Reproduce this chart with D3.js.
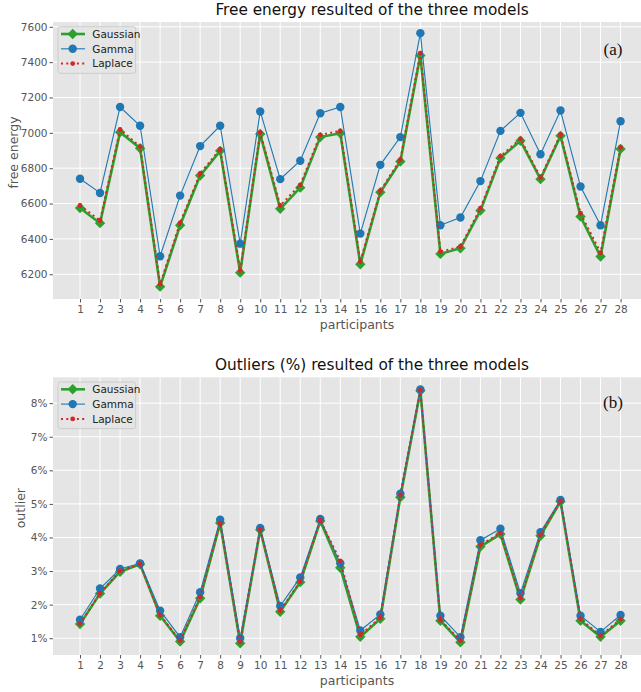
<!DOCTYPE html>
<html>
<head>
<meta charset="utf-8">
<script src="https://cdn.jsdelivr.net/npm/d3@7"></script>
<style>
  body { margin: 0; background: #fff; }
  svg { display: block; font-family: "DejaVu Sans", sans-serif; }
</style>
</head>
<body>
<script>
// participants on the x axis
const participants = [1, 2, 3, 4, 5, 6, 7, 8, 9, 10, 11, 12, 13, 14, 15, 16, 17, 18, 19, 20, 21, 22, 23, 24, 25, 26, 27, 28];

// (a) free energy
const freeGaussian = [6575, 6489, 7004, 6913, 6130, 6477, 6758, 6898, 6209, 6993, 6570, 6690, 6976, 6998,
  6257, 6664, 6838, 7437, 6315, 6347, 6560, 6857, 6955, 6738, 6983, 6526, 6300, 6909];
const freeGamma = [6740, 6660, 7146, 7040, 6302, 6645, 6925, 7040, 6373, 7121, 6738, 6842, 7111, 7146,
  6430, 6819, 6976, 7564, 6477, 6521, 6727, 7011, 7113, 6879, 7126, 6696, 6477, 7066];
const freeLaplace = [6589, 6504, 7019, 6922, 6144, 6491, 6770, 6908, 6221, 7002, 6589, 6706, 6989, 7011,
  6272, 6672, 6849, 7451, 6328, 6356, 6574, 6868, 6966, 6747, 6991, 6545, 6322, 6919];
const freeTicks = [6200, 6400, 6600, 6800, 7000, 7200, 7400, 7600];

// (b) outliers, percent
const outGaussian = [1.42, 2.33, 2.98, 3.20, 1.67, 0.90, 2.19, 4.43, 0.85, 4.23, 1.79, 2.67, 4.49, 3.10,
  1.04, 1.58, 5.20, 8.37, 1.52, 0.88, 3.73, 4.10, 2.15, 4.05, 5.07, 1.52, 1.04, 1.52];
const outGamma = [1.55, 2.48, 3.06, 3.23, 1.82, 1.03, 2.37, 4.53, 1.00, 4.28, 1.96, 2.81, 4.55, 3.23,
  1.23, 1.71, 5.30, 8.41, 1.67, 1.03, 3.92, 4.26, 2.34, 4.16, 5.12, 1.67, 1.19, 1.69];
const outLaplace = [1.43, 2.34, 3.01, 3.21, 1.69, 0.93, 2.23, 4.43, 0.89, 4.25, 1.82, 2.69, 4.52, 3.30,
  1.10, 1.61, 5.27, 8.39, 1.54, 0.93, 3.78, 4.13, 2.19, 4.08, 5.09, 1.57, 1.07, 1.57];
const outTicks = [1, 2, 3, 4, 5, 6, 7, 8];

const modelNames = ["Gaussian", "Gamma", "Laplace"];

const W = 641, H = 692;
const left = 53, right = 647.6;

const styles = {
  Gaussian: { color: "#2ca02c", width: 2.6, dash: null, marker: "diamond" },
  Gamma:    { color: "#1f77b4", width: 1.1, dash: null, marker: "circle" },
  Laplace:  { color: "#d62728", width: 2,   dash: "2,3.3", marker: "dot" }
};

const svg = d3.select("body").append("svg")
  .attr("width", W).attr("height", H)
  .attr("viewBox", `0 0 ${W} ${H}`);

const x = d3.scaleLinear().domain([-0.35, 29.35]).range([left, right]);

function drawMarker(g, kind, cx, cy, color) {
  if (kind === "diamond") {
    const r = 5.2;
    g.append("path")
      .attr("d", `M${cx},${cy - r}L${cx + r},${cy}L${cx},${cy + r}L${cx - r},${cy}Z`)
      .attr("fill", color);
  } else if (kind === "circle") {
    g.append("circle").attr("cx", cx).attr("cy", cy).attr("r", 4.2).attr("fill", color);
  } else {
    g.append("circle").attr("cx", cx).attr("cy", cy).attr("r", 2.4).attr("fill", color);
  }
}

function panel({ top, bottom, yDomain, yTicks, yFormat, values, title, yLabel, yLabelX, tag, tagY }) {
  const y = d3.scaleLinear().domain(yDomain).range([bottom, top]);
  const g = svg.append("g");

  g.append("rect")
    .attr("x", left).attr("y", top)
    .attr("width", right - left).attr("height", bottom - top)
    .attr("fill", "#e5e5e5");

  // grid
  g.append("g").selectAll("line.h").data(yTicks).join("line")
    .attr("x1", left).attr("x2", right)
    .attr("y1", (d) => y(d)).attr("y2", (d) => y(d))
    .attr("stroke", "#fff").attr("stroke-width", 1);
  g.append("g").selectAll("line.v").data(participants).join("line")
    .attr("y1", top).attr("y2", bottom)
    .attr("x1", (d) => x(d)).attr("x2", (d) => x(d))
    .attr("stroke", "#fff").attr("stroke-width", 1);

  // axes
  const ax = g.append("g")
    .attr("transform", `translate(0,${bottom})`)
    .call(d3.axisBottom(x).tickValues(participants).tickSize(3.5).tickPadding(3).tickFormat(d3.format("d")));
  const ay = g.append("g")
    .attr("transform", `translate(${left},0)`)
    .call(d3.axisLeft(y).tickValues(yTicks).tickSize(3.5).tickPadding(2).tickFormat(yFormat));
  [ax, ay].forEach((a) => {
    a.select(".domain").remove();
    a.selectAll(".tick line").attr("stroke", "#555");
    a.selectAll(".tick text").attr("fill", "#555")
      .style("font-size", "10.5px").style("font-family", "DejaVu Sans");
  });

  // series
  modelNames.forEach((name) => {
    const st = styles[name];
    const pts = participants.map((p, i) => [x(p), y(values[name][i])]);
    g.append("path")
      .attr("d", d3.line()(pts))
      .attr("fill", "none")
      .attr("stroke", st.color)
      .attr("stroke-width", st.width)
      .attr("stroke-dasharray", st.dash);
    const mg = g.append("g");
    pts.forEach(([px, py]) => drawMarker(mg, st.marker, px, py, st.color));
  });

  // legend
  const lg = g.append("g").attr("transform", `translate(58,${top + 4.7})`);
  lg.append("rect")
    .attr("width", 77.7).attr("height", 46.6).attr("rx", 2.5)
    .attr("fill", "#e5e5e5").attr("fill-opacity", 0.8)
    .attr("stroke", "#cccccc").attr("stroke-width", 1);
  modelNames.forEach((name, i) => {
    const st = styles[name];
    const ly = 7.3 + i * 14.8;
    lg.append("line")
      .attr("x1", 3).attr("x2", 27).attr("y1", ly).attr("y2", ly)
      .attr("stroke", st.color).attr("stroke-width", st.width)
      .attr("stroke-dasharray", st.dash);
    drawMarker(lg, st.marker, 14.7, ly, st.color);
    lg.append("text")
      .attr("x", 34.3).attr("y", ly + 3.8)
      .attr("fill", "#222")
      .style("font-size", "10.5px")
      .text(name);
  });

  // title and labels
  g.append("text")
    .attr("x", 372).attr("y", top - 7)
    .attr("text-anchor", "middle")
    .style("font-size", "15.3px")
    .attr("fill", "#111")
    .text(title);
  g.append("text")
    .attr("x", 357).attr("y", bottom + 29.5)
    .attr("text-anchor", "middle")
    .style("font-size", "12.5px")
    .attr("fill", "#555")
    .text("participants");
  g.append("text")
    .attr("transform", `translate(${yLabelX},${(top + bottom) / 2 - 8}) rotate(-90)`)
    .attr("text-anchor", "middle")
    .style("font-size", "12.5px")
    .attr("fill", "#555")
    .text(yLabel);
  g.append("text")
    .attr("x", 613).attr("y", tagY)
    .attr("text-anchor", "middle")
    .style("font-family", "Liberation Serif, serif")
    .style("font-size", "17px")
    .attr("fill", "#111")
    .text(tag);
}

panel({
  top: 22, bottom: 299,
  yDomain: [6060, 7627], yTicks: freeTicks, yFormat: d3.format("d"),
  values: { Gaussian: freeGaussian, Gamma: freeGamma, Laplace: freeLaplace },
  title: "Free energy resulted of the three models",
  yLabel: "free energy", yLabelX: 17.5, tag: "(a)", tagY: 55
});

panel({
  top: 377.3, bottom: 655,
  yDomain: [0.5, 8.77], yTicks: outTicks, yFormat: (d) => d + "%",
  values: { Gaussian: outGaussian, Gamma: outGamma, Laplace: outLaplace },
  title: "Outliers (%) resulted of the three models",
  yLabel: "outlier", yLabelX: 25, tag: "(b)", tagY: 408
});
</script>
</body>
</html>
